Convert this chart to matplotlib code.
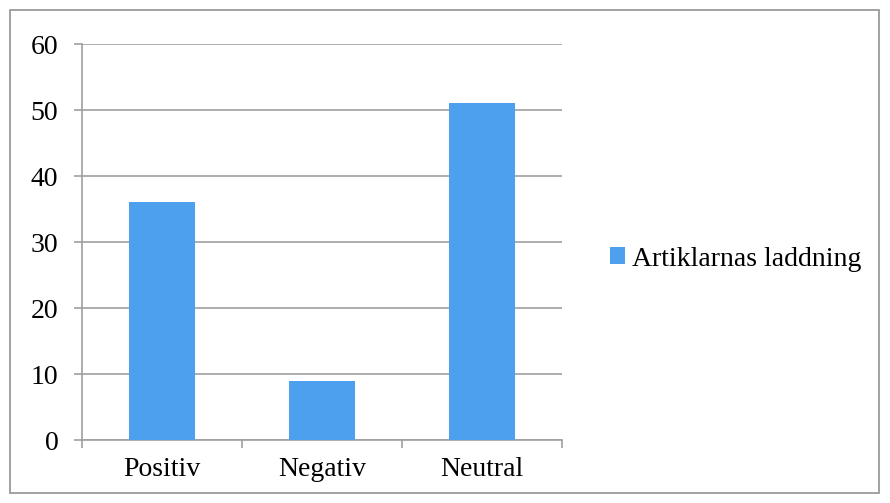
import matplotlib.pyplot as plt
from matplotlib.patches import Rectangle

# data
categories = ["Positiv", "Negativ", "Neutral"]
values = [36, 9, 51]
series_name = "Artiklarnas laddning"

plt.rcParams['font.family'] = ['Liberation Serif', 'DejaVu Serif']

W, H = 890, 503
fig = plt.figure(figsize=(W / 100, H / 100), dpi=100)

# outer chart border
fig.patches.append(Rectangle((10 / W, 1 - 493 / H), 869 / W, 483 / H,
                             transform=fig.transFigure, fill=False,
                             edgecolor="#9a9a9a", linewidth=1.3))

ax = fig.add_axes([82 / W, 1 - 440 / H, 480 / W, 396 / H])
grey = "#a0a0a0"
fs = 20

x = range(len(categories))
ax.bar(x, values, width=0.41, color="#4da0ee", label=series_name, zorder=3)

ax.set_xlim(-0.5, 2.5)
ax.set_ylim(0, 60)
ax.set_yticks(range(0, 61, 10))
ax.yaxis.grid(True, color=grey, linewidth=1.2, zorder=0)

ax.set_xticks([-0.5, 0.5, 1.5, 2.5], minor=False)
ax.set_xticklabels([])
ax.set_xticks(list(x), minor=True)
ax.set_xticklabels(categories, minor=True)
ax.tick_params(axis="x", which="major", length=6, width=1.2, color=grey, direction="out")
ax.tick_params(axis="x", which="minor", length=0, pad=12, labelsize=fs)
ax.tick_params(axis="y", length=6, width=1.2, color=grey, labelsize=fs, pad=11)

for s in ["top", "right"]:
    ax.spines[s].set_visible(False)
for s in ["left", "bottom"]:
    ax.spines[s].set_color(grey)
    ax.spines[s].set_linewidth(1.2)

ax.legend(loc="center left", bbox_to_anchor=((610 - 82) / 480, 1 - (259 - 44) / 396),
          frameon=False, fontsize=fs, handlelength=0.55, handleheight=0.55,
          handletextpad=0.25, borderaxespad=0, borderpad=0)

fig.savefig("out.png", dpi=100)
